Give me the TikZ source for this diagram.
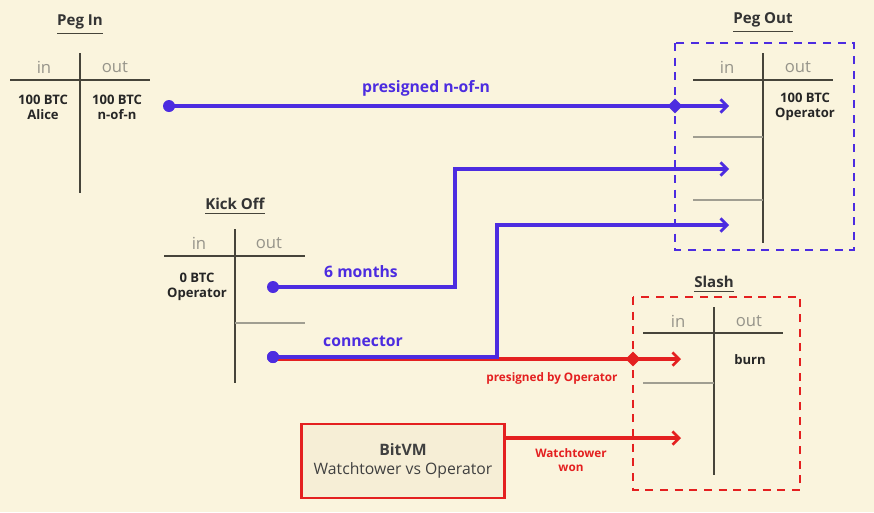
\documentclass[tikz,border=0pt]{standalone}
\usepackage{fontspec}
\setmainfont{Open Sans}
\usetikzlibrary{arrows.meta,shapes.geometric}
\definecolor{bg}{RGB}{250,244,221}
\definecolor{pblue}{RGB}{76,44,224}
\definecolor{pred}{RGB}{228,32,32}
\definecolor{ink}{RGB}{70,68,58}
\definecolor{soft}{RGB}{160,158,145}
\definecolor{hdr}{RGB}{150,148,138}
\definecolor{boxfill}{RGB}{246,238,214}
\tikzset{
  every node/.style={inner sep=0pt, outer sep=0pt},
  rule/.style={draw=ink, line width=1.5pt},
  subrule/.style={draw=soft, line width=1.2pt},
  hdrtext/.style={text=hdr, font=\fontsize{12.5}{15}\selectfont},
  celltext/.style={text=black!85, font=\bfseries\fontsize{9.8}{11.5}\selectfont, align=center},
  titletext/.style={text=black!80, font=\bfseries\fontsize{11.3}{13}\selectfont},
  bluewire/.style={draw=pblue, line width=2.4pt},
  redwire/.style={draw=pred, line width=2.4pt},
  barb/.style={-{Straight Barb[length=5pt,width=10pt,line width=2pt]}},
  dotend/.style={circle, fill=pblue, minimum size=9pt},
  junction/.style={diamond, minimum size=11pt},
  bluelabel/.style={text=pblue, font=\bfseries\fontsize{11.8}{14}\selectfont},
  redlabel/.style={text=pred, font=\bfseries\fontsize{8.8}{10.5}\selectfont, align=center},
  dashbox/.style={line width=1.6pt, dash pattern=on 6pt off 5pt},
}
\begin{document}
\begin{tikzpicture}[x=0.75pt,y=-0.75pt]
\useasboundingbox[fill=bg] (0,0) rectangle (874,512);

% ---------- Peg In ----------
\node[titletext] (pegintitle) at (80,22) {Peg In};
\draw[ink, line width=0.9pt] ([yshift=-3pt]pegintitle.south west) -- ([yshift=-3pt]pegintitle.south east);
\draw[rule] (10,80) -- (150,80);
\draw[rule] (80,53) -- (80,193);
\node[hdrtext] (peginin) at (44,67) {in};
\node[hdrtext] (peginout) at (115,67) {out};
\node[celltext] (peginA) at (43,107) {100 BTC\\Alice};
\node[celltext] (peginB) at (117,107) {100 BTC\\n-of-n};

% ---------- Peg Out ----------
\node[titletext] (pegouttitle) at (763,20) {Peg Out};
\draw[ink, line width=0.9pt] ([yshift=-3pt]pegouttitle.south west) -- ([yshift=-3pt]pegouttitle.south east);
\draw[pblue, dashbox] (675,43) rectangle (854,250);
\draw[rule] (693,80) -- (833,80);
\draw[rule] (763,53) -- (763,243);
\draw[subrule] (693,137) -- (763,137);
\draw[subrule] (693,200) -- (763,200);
\node[hdrtext] (pegoutin) at (727,67) {in};
\node[hdrtext] (pegoutout) at (798,67) {out};
\node[celltext] (pegoutA) at (805,107) {100 BTC\\Operator};
\coordinate (po1) at (729,106);
\coordinate (po2) at (729,169);
\coordinate (po3) at (729,225);

% ---------- Kick Off ----------
\node[titletext] (kotitle) at (235,204) {Kick Off};
\draw[ink, line width=0.9pt] ([yshift=-3pt]kotitle.south west) -- ([yshift=-3pt]kotitle.south east);
\draw[rule] (164,256) -- (305,256);
\draw[rule] (235,229) -- (235,383);
\draw[subrule] (235,323) -- (305,323);
\node[hdrtext] (koin) at (199,243) {in};
\node[hdrtext] (koout) at (269,243) {out};
\node[celltext] (koA) at (197,287) {0 BTC\\Operator};

% ---------- Slash ----------
\node[titletext] (slashtitle) at (714,282) {Slash};
\draw[ink, line width=0.9pt] ([yshift=-3pt]slashtitle.south west) -- ([yshift=-3pt]slashtitle.south east);
\draw[pred, dashbox] (633,297) rectangle (800,490);
\draw[rule] (643,333) -- (783,333);
\draw[rule] (714,307) -- (714,475);
\draw[subrule] (643,383) -- (714,383);
\node[hdrtext] (slin) at (678,321) {in};
\node[hdrtext] (slout) at (749,321) {out};
\node[celltext] (slA) at (750,360) {burn};
\coordinate (sl1) at (681,359);
\coordinate (sl2) at (681,438);

% ---------- BitVM ----------
\node[draw=pred, line width=2.2pt, minimum width=203pt*0.75, minimum height=74pt*0.75, fill=boxfill, align=center,
      font=\fontsize{11.8}{14.5}\selectfont, text=black!75] (bitvm) at (403,461)
      {\textbf{BitVM}\\Watchtower vs Operator};

% ---------- connectors ----------
\node[dotend] (d1) at (169,106) {};
\node[dotend] (d2) at (273,287) {};
\node[dotend] (d3) at (273,357) {};

% red: connector to Slash
\coordinate (redstart) at (273,359);
\node[junction, fill=pred] (jr) at (633,359) {};
\draw[redwire] (redstart) -- (jr.center);
\draw[redwire, barb] (jr.center) -- (sl1);
\node[redlabel] (lblpresig) at (552,378) {presigned by Operator};

% red: BitVM to Slash
\draw[redwire, barb] (bitvm.east |- sl2) -- (sl2);
\node[redlabel] (lblwt) at (571,460) {Watchtower\\won};

% blue: presigned n-of-n
\node[junction, fill=pblue] (jb) at (675,106) {};
\draw[bluewire] (d1.center) -- (jb.center);
\draw[bluewire, barb] (jb.center) -- (po1);
\node[bluelabel] (lblnofn) at (426,88) {presigned n-of-n};

% blue: 6 months
\draw[bluewire, barb] (d2.center) -- (455,287) -- (455,169) -- (po2);
\node[bluelabel] (lbl6m) at (361,272) {6 months};

% blue: connector
\draw[bluewire, barb] (d3.center) -- (497,357) -- (497,225) -- (po3);
\node[bluelabel] (lblconn) at (363,341) {connector};
\node[dotend] at (273,357) {};
\end{tikzpicture}
\end{document}
